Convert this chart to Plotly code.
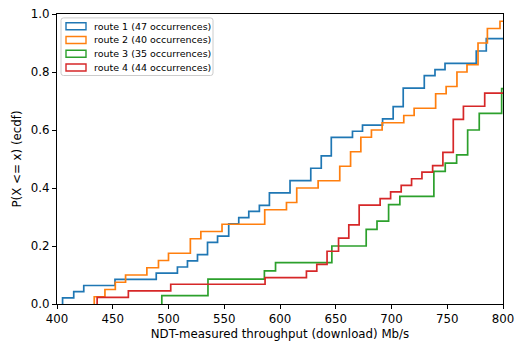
import numpy as np
import plotly.graph_objects as go

route1 = [405, 415, 424, 452, 489, 508, 517, 526, 535, 535, 544, 554, 554, 563, 572,
          581.5, 590.5, 590.5, 609, 609, 627.6, 627.6, 637, 637, 646, 646, 646, 665,
          674, 692, 701.5, 701.5, 710.5, 710.5, 710.5, 729.4, 729.4, 739, 748, 776,
          776, 785, 785, 812, 826, 845, 870]
route2 = [433.4, 443, 452.3, 461.5, 480.6, 491, 500, 519.6, 519.6, 529, 548, 586.3,
          586.3, 605.8, 615, 615, 634.2, 653.6, 653.6, 663.3, 663.3, 672.5, 672.5,
          682, 691.6, 711, 720.3, 739.6, 739.6, 749, 758.7, 758.7, 767.7, 777.6,
          777.6, 777.6, 786, 786, 797.3, 815]
route3 = [494, 535.4, 535.4, 586, 596, 646.5, 646.5, 677.3, 677.3, 687, 697.4, 697.4,
          707.5, 738, 738, 738, 748.2, 758.4, 768.3, 768.3, 768.3, 778.7, 778.7,
          798.8, 798.8, 798.8, 808, 815, 822, 830, 840, 850, 862, 875, 890]
route4 = [436, 464, 502, 586.6, 623.7, 633, 642.2, 642.2, 652.5, 652.5, 661.7, 661.7,
          671, 671, 671, 689.8, 699.2, 708.7, 718, 727.3, 736.9, 746.1, 746.1, 755.4,
          755.4, 755.4, 755.4, 755.4, 764.5, 764.5, 783.6, 783.6, 805, 812, 818, 825,
          833, 840, 848, 856, 865, 875, 888, 900]

series = [route1, route2, route3, route4]
names = ["route 1", "route 2", "route 3", "route 4"]
colors = ["#1f77b4", "#ff7f0e", "#2ca02c", "#d62728"]

x_ticks = [400, 450, 500, 550, 600, 650, 700, 750, 800]
y_ticks = [0.0, 0.2, 0.4, 0.6, 0.8, 1.0]

FONT = "DejaVu Sans"
fig = go.Figure()

for vals, name, col in zip(series, names, colors):
    v = np.sort(np.asarray(vals, dtype=float))
    n = len(v)
    ux, counts = np.unique(v, return_counts=True)
    cum = np.cumsum(counts) / n
    xs = [ux[0]] + list(ux)
    ys = [0.0] + list(cum)
    fig.add_trace(go.Scatter(x=xs, y=ys, mode="lines", line_shape="hv",
                             line=dict(color=col, width=1.7),
                             name=f"{name} ({n} occurrences)", showlegend=False,
                             hoverinfo="skip"))

W, H = 524, 345
ml, mr, mt, mb = 57, 21, 7, 41
pw, ph = W - ml - mr, H - mt - mb

def px2paper(px, py):
    return (px - ml) / pw, (H - mb - py) / ph

shapes = []
annotations = []

# legend frame
x0, y0 = px2paper(61, 11)
x1, y1 = px2paper(213, 70)
rx, ry = 2.5 / pw, 2.5 / ph
path = (f"M {x0+rx},{y0} L {x1-rx},{y0} Q {x1},{y0} {x1},{y0-ry} "
        f"L {x1},{y1+ry} Q {x1},{y1} {x1-rx},{y1} L {x0+rx},{y1} "
        f"Q {x0},{y1} {x0},{y1+ry} L {x0},{y0-ry} Q {x0},{y0} {x0+rx},{y0} Z")
shapes.append(dict(type="path", xref="paper", yref="paper", path=path,
                   line=dict(color="#cccccc", width=1),
                   fillcolor="rgba(255,255,255,0.8)", layer="above"))

row_c = [19.5, 33.6, 47.7, 61.8]
for vals, name, col, cy in zip(series, names, colors, row_c):
    a0, b0 = px2paper(66, cy - 3.6)
    a1, b1 = px2paper(86, cy + 3.6)
    shapes.append(dict(type="rect", xref="paper", yref="paper", x0=a0, x1=a1,
                       y0=b1, y1=b0, line=dict(color=col, width=1.4),
                       fillcolor="rgba(0,0,0,0)", layer="above"))
    tx, ty = px2paper(92, cy)
    annotations.append(dict(x=tx, y=ty, xref="paper", yref="paper",
                            text=f"{name} ({len(vals)} occurrences)",
                            showarrow=False, xanchor="left", yanchor="middle",
                            font=dict(family=FONT, size=9.5, color="#000000")))

axis_common = dict(showline=True, mirror=True, linecolor="#000000", linewidth=1,
                   ticks="outside", ticklen=4, tickwidth=1, tickcolor="#000000",
                   showgrid=False, zeroline=False,
                   tickfont=dict(family=FONT, size=11.8, color="#000000"))

fig.update_layout(
    width=W, height=H,
    margin=dict(l=ml, r=mr, t=mt, b=mb),
    paper_bgcolor="white", plot_bgcolor="white",
    xaxis=dict(range=[400, 800], tickvals=x_ticks,
               ticktext=[str(t) for t in x_ticks],
               title=dict(text="NDT-measured throughput (download) Mb/s",
                          font=dict(family=FONT, size=11.8, color="#000000"),
                          standoff=4),
               **axis_common),
    yaxis=dict(range=[0, 1], tickvals=y_ticks,
               ticktext=[f"{t:.1f}" for t in y_ticks],
               title=dict(text="P(X <= x) (ecdf)",
                          font=dict(family=FONT, size=11.8, color="#000000"),
                          standoff=6),
               **axis_common),
    shapes=shapes,
    annotations=annotations,
    showlegend=False,
)

fig.write_html("out.html",
               config={"displayModeBar": False},
               post_script="document.body.style.margin='0';document.body.style.overflow='hidden';")
